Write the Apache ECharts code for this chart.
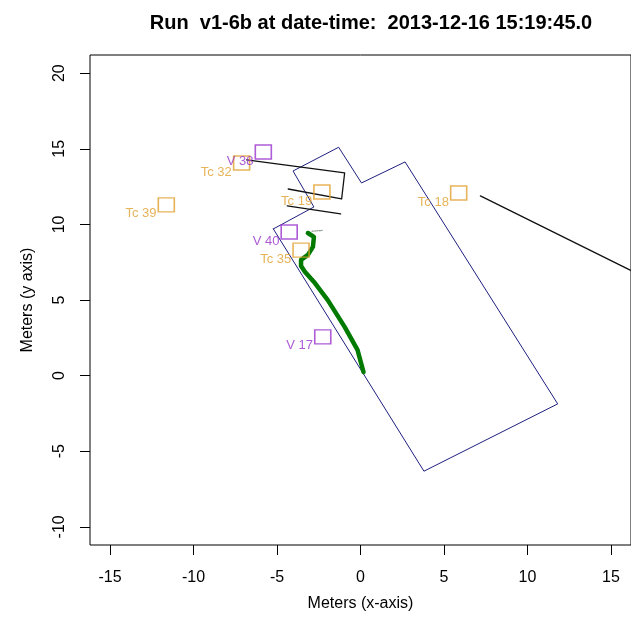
<!DOCTYPE html>
<html>
<head>
<meta charset="utf-8">
<script src="https://cdn.jsdelivr.net/npm/echarts@6/dist/echarts.min.js"></script>
<style>
  html, body { margin: 0; padding: 0; background: #fff; }
  #main { width: 631px; height: 628px; }
</style>
</head>
<body>
<div id="main"></div>
<script>
// axis ticks
var xTicks = [-15, -10, -5, 0, 5, 10, 15];
var yTicks = [-10, -5, 0, 5, 10, 15, 20];

// room outline (navy), closed
var outline = [
  [-5.22, 9.70], [-2.79, 11.15], [-4.04, 13.53], [-1.31, 15.10],
  [0.06, 12.74], [2.67, 14.13], [11.81, -1.87], [3.80, -6.32], [-5.22, 9.70]
];

// black tracks
var trackA = [[-6.82, 14.26], [-0.95, 13.40], [-1.13, 11.68], [-4.33, 12.34]];
var trackB = [[-4.39, 11.22], [-1.19, 10.69]];
var trackC = [[7.18, 11.88], [15.91, 7.11], [17.63, 6.19]];

// green path
var greenPath = [
  [0.18, 0.24], [-0.18, 1.70], [-0.95, 3.22], [-1.96, 4.99], [-2.73, 6.12],
  [-3.32, 6.85], [-3.56, 7.25], [-3.56, 7.65], [-3.15, 7.98], [-2.85, 8.51],
  [-2.79, 9.17], [-3.15, 9.43]
];
var greyDots = [[-2.9, 9.55], [-2.3, 9.6]];

// Tc markers (orange)
var tcNames = ["Tc 32", "Tc 39", "Tc 19", "Tc 18", "Tc 35"];
var tcX = [-7.12, -11.63, -2.31, 5.88, -3.56];
var tcY = [14.06, 11.29, 12.14, 12.08, 8.30];

// V markers (purple)
var vNames = ["V 38", "V 40", "V 17"];
var vX = [-5.82, -4.27, -2.26];
var vY = [14.79, 9.50, 2.56];

var font = "Liberation Sans";

function markers(names, xs, ys) {
  return names.map(function (n, i) {
    return { name: n, value: [xs[i], ys[i]] };
  });
}

function lineSeries(data, color, width, type) {
  return {
    type: "line",
    data: data,
    showSymbol: false,
    symbol: "none",
    silent: true,
    lineStyle: { color: color, width: width, type: type || "solid", join: "round", cap: "round" },
    z: 2
  };
}

function markerSeries(names, xs, ys, color) {
  return {
    type: "scatter",
    data: markers(names, xs, ys),
    symbol: "rect",
    symbolSize: [16, 14],
    itemStyle: { color: "rgba(0,0,0,0)", borderColor: color, borderWidth: 1.5 },
    label: {
      show: true,
      position: "left",
      distance: 1,
      offset: [0, 9],
      formatter: "{b}",
      color: color,
      fontFamily: font,
      fontSize: 13
    },
    z: 5
  };
}

var dom = document.getElementById("main");
var myChart = echarts.init(dom, null, { renderer: "canvas" });

var option = {
  animation: false,
  backgroundColor: "#fff",
  title: {
    text: "Run  v1-6b at date-time:  2013-12-16 15:19:45.0",
    left: 366,
    top: 8,
    textAlign: "center",
    textStyle: { fontFamily: font, fontSize: 20, fontWeight: "bold", color: "#000" }
  },
  grid: {
    left: 90,
    right: -5,
    top: 55,
    bottom: 83,
    show: true,
    borderColor: "#000",
    borderWidth: 1,
    backgroundColor: "rgba(0,0,0,0)"
  },
  xAxis: {
    type: "value",
    min: -16.2,
    max: 16.2,
    name: "Meters (x-axis)",
    nameLocation: "middle",
    nameGap: 51,
    nameTextStyle: { fontFamily: font, fontSize: 16, color: "#000" },
    axisLine: { show: false, onZero: false },
    axisTick: { show: true, length: 10, customValues: xTicks, lineStyle: { color: "#000" } },
    axisLabel: { customValues: xTicks, margin: 25, fontFamily: font, fontSize: 16, color: "#000" },
    splitLine: { show: false }
  },
  yAxis: {
    type: "value",
    min: -11.2,
    max: 21.2,
    name: "Meters (y axis)",
    nameLocation: "middle",
    nameGap: 54,
    nameTextStyle: { fontFamily: font, fontSize: 16, color: "#000" },
    axisLine: { show: false, onZero: false },
    axisTick: { show: true, length: 10, customValues: yTicks, lineStyle: { color: "#000" } },
    axisLabel: { customValues: yTicks, margin: 22, rotate: 90, fontFamily: font, fontSize: 16, color: "#000" },
    splitLine: { show: false }
  },
  series: [
    lineSeries(outline, "#1f1f80", 1),
    lineSeries(trackA, "#111", 1.3),
    lineSeries(trackB, "#111", 1.3),
    lineSeries(trackC, "#111", 1.3),
    lineSeries(greyDots, "#8a9a8a", 1.2, "dotted"),
    lineSeries(greenPath, "#007a00", 4.5),
    markerSeries(tcNames, tcX, tcY, "#e0a030"),
    markerSeries(vNames, vX, vY, "#9932cc")
  ]
};

if (option && typeof option === "object") {
  myChart.setOption(option);
}
window.addEventListener("resize", myChart.resize);
</script>
</body>
</html>
